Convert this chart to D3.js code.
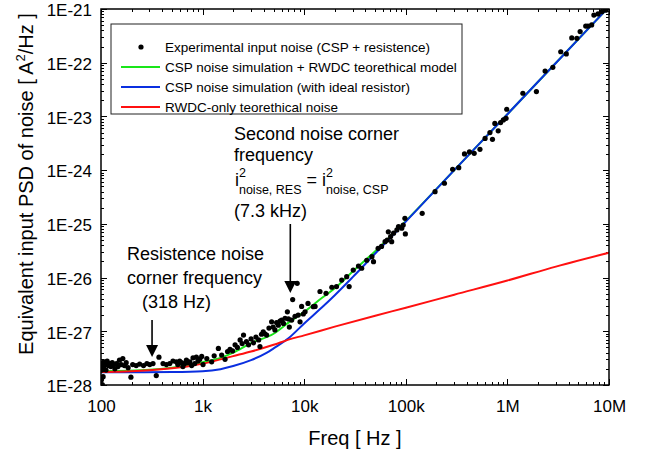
<!DOCTYPE html>
<html lang="en">
<head>
<meta charset="utf-8">
<title>Equivalent input PSD of noise</title>
<script src="https://cdn.jsdelivr.net/npm/d3@7"></script>
<style>
  body { margin: 0; background: #fff; }
  svg { font-family: "Liberation Sans", Arial, sans-serif; }
  .axis path { display: none; }
  .axis line { stroke: #000; stroke-width: 1px; shape-rendering: crispEdges; }
  .axis text { font-size: 17px; fill: #000; }
</style>
</head>
<body>
<script>

// experimental input noise, [freq Hz, PSD A^2/Hz]
var measured = [
  [100, 2.3e-28], [101, 1.25e-28], [102, 1.9e-28], [103, 1.02e-28], [104, 2.6e-28], [105, 1.43e-28],
  [106, 2.1e-28], [108, 2.7e-28], [110, 2.4e-28], [112, 1.9e-28], [115, 2.8e-28], [118, 2.3e-28],
  [121, 2.5e-28], [125, 2.2e-28], [129, 2.6e-28], [133, 2.35e-28], [137, 2.0e-28], [142, 2.5e-28],
  [147, 2.2e-28], [152, 2.9e-28], [158, 2.4e-28], [164, 3.1e-28], [170, 2.3e-28], [177, 2.6e-28],
  [185, 2.1e-28], [197, 1.4e-28], [205, 2.4e-28], [222, 2.3e-28], [240, 2.45e-28], [262, 2.3e-28],
  [283, 2.5e-28], [302, 2.4e-28], [325, 2.5e-28], [350, 1.5e-28], [372, 3.3e-28], [408, 2.5e-28],
  [440, 2.4e-28], [475, 2.5e-28], [511, 2.8e-28], [551, 2.7e-28], [570, 2.4e-28], [595, 2.8e-28],
  [620, 2.6e-28], [640, 2.2e-28], [665, 2.5e-28], [693, 2.9e-28], [720, 2.6e-28], [748, 2.7e-28],
  [780, 2.3e-28], [805, 3.2e-28], [836, 2.5e-28], [868, 3.3e-28], [900, 2.8e-28], [937, 3.0e-28],
  [980, 3.4e-28], [1010, 2.4e-28], [1100, 3.1e-28], [1228, 2.7e-28], [1300, 3.5e-28], [1430, 4.8e-28],
  [1540, 3.6e-28], [1663, 3.0e-28], [1760, 4.2e-28], [1861, 4.6e-28], [1970, 4.3e-28], [2088, 5.6e-28],
  [2200, 5.0e-28], [2341, 6.9e-28], [2450, 5.9e-28], [2528, 8.5e-28], [2700, 6.4e-28], [2833, 5.6e-28],
  [3000, 7.2e-28], [3176, 6.1e-28], [3350, 7.8e-28], [3560, 6.9e-28], [3670, 5.2e-28], [3800, 8.8e-28],
  [3950, 9.8e-28], [4100, 9.0e-28], [4270, 8.5e-28], [4500, 1.15e-27], [4780, 1.5e-27], [4950, 1.2e-27],
  [5150, 1.06e-27], [5350, 1.45e-27], [5560, 1.3e-27], [5780, 1.55e-27], [6000, 1.62e-27], [6250, 1.4e-27],
  [6480, 1.75e-27], [6830, 2.3e-27], [7000, 1.7e-27], [7140, 1.2e-27], [7530, 1.62e-27], [7700, 3.9e-27],
  [8120, 1.9e-27], [8530, 7.8e-27], [8730, 2.0e-27], [9100, 1.5e-27], [9430, 2.9e-27], [9800, 2.1e-27],
  [10200, 2.3e-27], [10900, 3.3e-27], [12300, 2.87e-27], [12800, 2.9e-27], [14300, 5.5e-27], [16400, 5.1e-27],
  [18700, 6.6e-27], [20800, 6.8e-27], [23400, 9.0e-27], [26200, 1.04e-26], [27700, 6.8e-27], [30400, 1.38e-26],
  [34200, 1.64e-26], [36800, 1.49e-26], [41300, 2.1e-26], [46400, 2.45e-26], [48100, 1.98e-26], [53400, 3.5e-26],
  [57700, 3.8e-26], [62500, 4.66e-26], [65600, 5.0e-26], [67300, 7.1e-26], [70900, 5.8e-26], [72600, 4.66e-26],
  [75800, 6.7e-26], [81700, 7.7e-26], [84800, 8.9e-26], [91200, 8.3e-26], [94300, 9.5e-26], [98000, 1.27e-25],
  [99000, 6.5e-26], [145000, 1.57e-25], [194000, 3.97e-25], [240000, 5.7e-25], [289000, 1.04e-24], [332000, 1.11e-24],
  [378000, 2.0e-24], [423000, 2.18e-24], [471000, 2.06e-24], [537000, 2.44e-24], [603000, 3.9e-24], [673000, 5.0e-24],
  [713000, 3.75e-24], [752000, 7.4e-24], [812000, 5.4e-24], [858000, 7.7e-24], [913000, 8.6e-24], [970000, 9.2e-24],
  [985000, 1.36e-23], [1420000, 2.7e-23], [1930000, 2.9e-23], [2350000, 7.0e-23], [2800000, 8.2e-23], [3350000, 1.6e-22],
  [3800000, 1.46e-22], [4300000, 2.9e-22], [4830000, 2.85e-22], [5200000, 3.8e-22], [5900000, 4.8e-22], [6200000, 4.8e-22],
  [6750000, 5.05e-22], [7100000, 7.7e-22], [7800000, 8.1e-22], [8500000, 8.9e-22], [9300000, 9.5e-22]
];

// CSP noise simulation + RWDC model (green)
var simTotal = [
  [100, 1.8e-28], [300, 1.92e-28], [500, 2.1e-28], [700, 2.3e-28], [1000, 2.65e-28], [1500, 3.2e-28],
  [2000, 4.0e-28], [3000, 6.0e-28], [5000, 9.0e-28], [7000, 1.45e-27], [10000, 2.3e-27], [15000, 4.2e-27],
  [20000, 6.3e-27], [30000, 1.3e-26], [50000, 3.1e-26], [100000, 1.13e-25], [300000, 1.0e-24],
  [1000000, 1.1e-23], [10000000, 1.1e-21]
];

// CSP noise simulation, ideal resistor (blue)
var simIdeal = [
  [100, 1.72e-28], [200, 1.72e-28], [500, 1.74e-28], [1000, 1.8e-28], [1500, 1.97e-28], [2000, 2.25e-28],
  [3000, 2.9e-28], [4300, 4.0e-28], [5000, 4.8e-28], [7000, 7.4e-28], [10000, 1.4e-27], [15000, 2.8e-27],
  [20000, 4.7e-27], [30000, 1.02e-26], [50000, 2.8e-26], [100000, 1.1e-25], [300000, 1.0e-24],
  [1000000, 1.1e-23], [3000000, 9.9e-23], [10000000, 1.1e-21]
];

// RWDC-only theoretical noise (red)
var rwdcOnly = [
  [100, 1.75e-28], [200, 1.8e-28], [300, 1.88e-28], [500, 2.05e-28], [700, 2.22e-28], [1000, 2.5e-28],
  [1500, 3.0e-28], [2000, 3.45e-28], [3000, 4.2e-28], [5000, 5.6e-28], [7000, 7.0e-28], [10000, 8.4e-28],
  [20000, 1.22e-27], [50000, 1.95e-27], [100000, 2.75e-27], [300000, 4.8e-27], [1000000, 8.8e-27],
  [3000000, 1.6e-26], [10000000, 2.9e-26]
];

var xTickValues = [100, 1e3, 1e4, 1e5, 1e6, 1e7];
var xTickLabels = ["100", "1k", "10k", "100k", "1M", "10M"];
var yTickValues = [1e-28, 1e-27, 1e-26, 1e-25, 1e-24, 1e-23, 1e-22, 1e-21];
var yTickLabels = ["1E-28", "1E-27", "1E-26", "1E-25", "1E-24", "1E-23", "1E-22", "1E-21"];

var legendLabels = [
  "Experimental input noise (CSP + resistence)",
  "CSP noise simulation + RWDC teorethical model",
  "CSP noise simulation (with ideal resistor)",
  "RWDC-only teorethical noise"
];

var width = 645, height = 451,
    margin = {top: 9, right: 36, bottom: 66, left: 101},
    w = width - margin.left - margin.right,
    h = height - margin.top - margin.bottom;

var svg = d3.select("body").append("svg")
    .attr("width", width)
    .attr("height", height);

var g = svg.append("g")
    .attr("transform", "translate(" + margin.left + "," + margin.top + ")");

var x = d3.scaleLog().domain([100, 1e7]).range([0, w]);
var y = d3.scaleLog().domain([1e-28, 1e-21]).range([h, 0]);

// minor ticks 2..9 of every decade
function minors(lo, hi) {
  var out = [];
  for (var e = lo; e < hi; e++)
    for (var k = 2; k <= 9; k++) out.push(k * Math.pow(10, e));
  return out;
}
var xMinor = minors(2, 7), yMinor = minors(-28, -21);

// axes, ticks pointing inward on all four sides
g.append("g").attr("class", "axis xlab")
  .attr("transform", "translate(0," + h + ")")
  .call(d3.axisBottom(x).tickValues(xTickValues).tickSize(-6).tickPadding(15)
    .tickFormat(function(d, i) { return xTickLabels[i]; }));
g.append("g").attr("class", "axis")
  .attr("transform", "translate(0," + h + ")")
  .call(d3.axisBottom(x).tickValues(xMinor).tickSize(-3).tickFormat(""));
g.append("g").attr("class", "axis")
  .call(d3.axisTop(x).tickValues(xTickValues).tickSize(-6).tickFormat(""));
g.append("g").attr("class", "axis")
  .call(d3.axisTop(x).tickValues(xMinor).tickSize(-3).tickFormat(""));

g.append("g").attr("class", "axis ylab")
  .call(d3.axisLeft(y).tickValues(yTickValues).tickSize(-6).tickPadding(9)
    .tickFormat(function(d, i) { return yTickLabels[i]; }));
g.append("g").attr("class", "axis")
  .call(d3.axisLeft(y).tickValues(yMinor).tickSize(-3).tickFormat(""));
g.append("g").attr("class", "axis")
  .attr("transform", "translate(" + w + ",0)")
  .call(d3.axisRight(y).tickValues(yTickValues).tickSize(-6).tickFormat(""));
g.append("g").attr("class", "axis")
  .attr("transform", "translate(" + w + ",0)")
  .call(d3.axisRight(y).tickValues(yMinor).tickSize(-3).tickFormat(""));

g.selectAll(".ylab text").attr("dy", "0.4em");

// clip for the curves
g.append("clipPath").attr("id", "plotclip")
  .append("rect").attr("width", w).attr("height", h);

var line = d3.line()
    .x(function(d) { return x(d[0]); })
    .y(function(d) { return y(d[1]); })
    .curve(d3.curveMonotoneX);

var curves = [
  {data: simTotal, color: "#19e619"},
  {data: simIdeal, color: "#0a2fe0"},
  {data: rwdcOnly, color: "#ff1010"}
];

var plot = g.append("g").attr("clip-path", "url(#plotclip)");

plot.selectAll("path.curve")
  .data(curves)
  .enter().append("path")
  .attr("class", "curve")
  .attr("d", function(d) { return line(d.data); })
  .attr("fill", "none")
  .attr("stroke", function(d) { return d.color; })
  .attr("stroke-width", 2);

plot.selectAll("circle.pt")
  .data(measured)
  .enter().append("circle")
  .attr("class", "pt")
  .attr("cx", function(d) { return x(d[0]); })
  .attr("cy", function(d) { return y(d[1]); })
  .attr("r", 2.6)
  .attr("fill", "#000");

// frame
g.append("rect")
  .attr("width", w).attr("height", h)
  .attr("fill", "none")
  .attr("stroke", "#000")
  .attr("stroke-width", 1.5);

// legend
var leg = g.append("g").attr("transform", "translate(10,15)");
leg.append("rect")
  .attr("width", 351).attr("height", 90)
  .attr("fill", "#fff")
  .attr("stroke", "#222")
  .attr("stroke-width", 1);

var legItems = leg.selectAll("g.item")
  .data(legendLabels)
  .enter().append("g")
  .attr("class", "item")
  .attr("transform", function(d, i) { return "translate(0," + (23 + i * 20) + ")"; });

legItems.each(function(d, i) {
  var it = d3.select(this);
  if (i === 0) {
    it.append("circle").attr("cx", 30).attr("r", 2.6).attr("fill", "#000");
  } else {
    it.append("line")
      .attr("x1", 10).attr("x2", 49)
      .attr("stroke", curves[i - 1].color)
      .attr("stroke-width", 2);
  }
  it.append("text")
    .attr("x", 54).attr("dy", "0.35em")
    .style("font-size", "13.5px")
    .text(d);
});

// annotations
var notes = g.append("g").style("font-size", "18px").attr("fill", "#000");

var n1 = notes.append("text").attr("x", 26);
n1.append("tspan").attr("x", 26).attr("y", 251).text("Resistence noise");
n1.append("tspan").attr("x", 26).attr("y", 275).text("corner frequency");
n1.append("tspan").attr("x", 41).attr("y", 299).text("(318 Hz)");

var n2 = notes.append("text");
n2.append("tspan").attr("x", 133).attr("y", 131).text("Second noise corner");
n2.append("tspan").attr("x", 133).attr("y", 152).text("frequency");
n2.append("tspan").attr("x", 133).attr("y", 208).text("(7.3 kHz)");

var eq = notes.append("text").attr("x", 134).attr("y", 177);
eq.append("tspan").text("i");
eq.append("tspan").attr("dy", -9).style("font-size", "12.5px").text("2");
eq.append("tspan").attr("dx", -7).attr("dy", 17).style("font-size", "12.5px").text("noise, RES");
eq.append("tspan").attr("dy", -8).text(" = i");
eq.append("tspan").attr("dy", -9).style("font-size", "12.5px").text("2");
eq.append("tspan").attr("dx", -7).attr("dy", 17).style("font-size", "12.5px").text("noise, CSP");

// arrows pointing at the two corner frequencies
var arrows = [
  {f: 318, top: 311, tip: 348},
  {f: 7300, top: 215, tip: 284}
];
arrows.forEach(function(a) {
  var ax = x(a.f);
  g.append("line")
    .attr("x1", ax).attr("x2", ax)
    .attr("y1", a.top).attr("y2", a.tip - 8)
    .attr("stroke", "#000").attr("stroke-width", 1.6);
  g.append("path")
    .attr("d", "M" + (ax - 6) + "," + (a.tip - 12) + "L" + (ax + 6) + "," + (a.tip - 12) + "L" + ax + "," + a.tip + "Z")
    .attr("fill", "#000");
});

// axis titles
svg.append("text")
  .attr("x", margin.left + w / 2).attr("y", 445)
  .attr("text-anchor", "middle")
  .style("font-size", "20px")
  .text("Freq [ Hz ]");

var yt = svg.append("text")
  .attr("transform", "translate(33,184) rotate(-90)")
  .attr("text-anchor", "middle")
  .style("font-size", "20px");
yt.append("tspan").text("Equivalent input PSD of noise [ A");
yt.append("tspan").attr("dy", -8).style("font-size", "13px").text("2");
yt.append("tspan").attr("dy", 8).text("/Hz ]");

</script>
</body>
</html>
